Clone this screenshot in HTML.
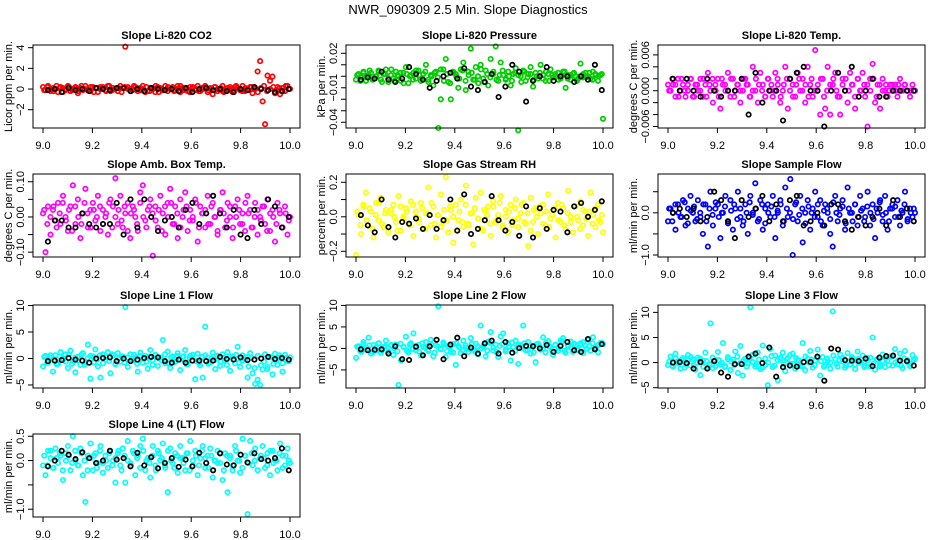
<!DOCTYPE html>
<html><head><meta charset="utf-8"><style>
html,body{margin:0;padding:0;background:#fff;}
svg{display:block;font-family:"Liberation Sans",Arial,sans-serif;}
</style></head><body>
<svg id="chart" width="936" height="540" viewBox="0 0 936 540" xmlns="http://www.w3.org/2000/svg">
<rect width="936" height="540" fill="#fff"/>
<text x="468" y="14" text-anchor="middle" font-size="13">NWR_090309  2.5 Min. Slope Diagnostics</text>
</svg>
<script>
const xTicks=[9.0,9.2,9.4,9.6,9.8,10.0];
const xTickLabels=["9.0","9.2","9.4","9.6","9.8","10.0"];
const co2=[0.2,-0.1,0.3,-0.2,0.1,0.0,-0.3,0.2,0.1,-0.1,0.3,-0.2,0.0,0.2,-0.4,0.1,-0.1,0.3,0.0,-0.2,0.2,0.1,-0.3,0.2,0.0,-0.1,0.3,-0.2,0.1,0.0,-0.2,0.3,0.1,4.1,0.2,0.0,-0.1,0.2,-0.2,0.1,0.3,-0.3,-0.2,0.1,0.0,-0.3,0.2,0.1,-0.1,0.3,-0.2,0.0,0.2,-0.1,0.3,-0.3,0.1,0.0,-0.2,0.2,0.1,-0.1,0.3,-0.2,0.0,0.2,-0.3,0.1,-0.5,0.2,0.0,-0.1,0.3,-0.2,0.1,0.0,-0.3,0.2,0.1,-0.1,0.3,-0.2,0.0,0.2,-0.4,0.1,1.7,2.7,-1.2,-3.4,1.3,0.8,1.2,-0.4,0.2,-0.5,0.1,-0.2,0.3,0.0];
const co2Band=[-0.1,0.2,0.0,-0.2,0.3,0.1,-0.3,0.0,0.2,-0.1,0.1,-0.2,0.3,0.0,-0.1,0.2,-0.3,0.1,0.0,0.2,-0.2,0.3,-0.1,0.0,0.1,-0.3,0.2,0.0,-0.2,0.3,0.1,-0.1,0.0,0.2,-0.2,0.1,0.3,-0.3,0.0,-0.1,0.2,0.1,-0.2,0.0,0.3,-0.1,0.1,-0.3,0.2,0.0,-0.2,0.1,0.3,-0.1,0.0,0.2,-0.2,0.1,-0.3,0.0,0.2,-0.1,0.3,0.0,-0.2,0.1,-0.1,0.2,0.0,-0.3,0.1,0.3,-0.2,0.0,0.2,-0.1,0.1,-0.2,0.3,0.0];
const co2Ref=[-0.1,0.0,-0.3,0.1,-0.1,0.0,-0.2,0.1,0.0,-0.1,0.1,0.1,-0.2,0.0,-0.2,0.1,0.0,-0.1,0.0,-0.2,0.1,-0.3,0.0,0.1,-0.1,0.0,-0.2,-0.3,0.0,-0.1,0.2,0.0,-0.1,-0.3,-0.2,0.0];
const pressure=[-0.003,0.002,-0.001,0.004,-0.004,0.001,0.003,-0.002,0.000,0.005,-0.003,0.002,0.006,-0.005,0.001,-0.002,0.004,0.000,-0.004,0.003,0.008,-0.006,0.001,0.003,-0.002,0.005,-0.004,0.002,0.010,-0.003,0.001,-0.008,0.004,-0.045,-0.020,0.006,0.015,-0.005,-0.020,0.003,0.002,-0.010,0.006,0.012,-0.012,0.004,0.024,-0.003,0.008,-0.006,0.010,-0.002,0.005,-0.008,0.015,0.002,0.026,-0.004,0.012,0.001,-0.003,0.004,-0.008,0.002,0.007,-0.047,0.000,0.005,-0.004,0.002,0.008,-0.009,0.003,-0.002,0.010,0.001,-0.004,0.002,0.006,-0.001,0.000,0.003,-0.002,0.004,-0.010,0.001,-0.003,0.002,0.000,-0.002,0.011,-0.001,0.003,0.000,-0.002,0.004,0.002,-0.004,0.001,-0.037];
const pressureBand=[0.001,-0.004,0.003,-0.001,0.005,-0.003,0.000,0.004,-0.005,0.002,-0.002,0.006,-0.004,0.001,0.003,-0.006,0.002,0.000,-0.003,0.005,0.001,-0.002,0.004,-0.005,0.000,0.003,-0.001,0.006,-0.004,0.002,-0.006,0.004,0.000,-0.002,0.005,-0.004,0.001,0.003,-0.003,0.000,0.006,-0.005,0.002,-0.001,0.004,-0.003,0.001,0.005,-0.002,0.000,-0.004,0.003,0.001,-0.005,0.004,-0.001,0.002,-0.003,0.000,0.003,-0.002,0.004,-0.004,0.001,0.002,-0.003,0.000,0.004,-0.002,0.001,0.003,-0.004,0.000,0.002,-0.001,0.003,-0.003,0.001,0.000,0.002];
const pressureRef=[-0.003,-0.001,-0.002,0.004,-0.003,-0.005,-0.002,0.008,0.002,-0.003,-0.010,-0.004,0.000,0.003,-0.002,0.007,-0.009,-0.012,-0.005,0.002,-0.018,-0.009,0.010,0.004,-0.022,-0.004,0.000,0.008,-0.004,0.000,0.000,-0.005,0.000,-0.003,0.010,-0.012];
const temp=[0.001,0.000,0.001,-0.001,0.002,0.000,0.001,-0.001,0.000,0.002,-0.001,0.001,0.000,0.002,-0.001,0.001,0.003,0.000,-0.002,0.001,0.002,-0.003,0.001,0.000,0.003,-0.001,0.002,0.000,0.001,-0.002,0.000,0.002,0.001,-0.001,0.004,0.000,-0.002,0.003,0.001,-0.001,0.002,0.000,-0.001,0.003,0.001,-0.002,0.000,0.004,-0.003,0.002,0.001,-0.001,0.003,0.000,0.002,-0.002,0.004,0.001,-0.001,0.0068,0.000,-0.004,0.002,-0.003,0.004,-0.004,0.001,0.003,-0.001,-0.004,0.002,0.000,-0.002,0.003,0.001,-0.003,0.002,0.000,0.003,-0.001,-0.006,0.002,0.0045,-0.002,0.001,-0.003,0.002,0.000,-0.001,0.001,0.000,0.001,-0.001,0.002,0.000,0.001,0.000,-0.001,0.001,0.000];
const tempBand=[0.000,0.002,0.001,-0.001,0.002,0.000,0.001,0.002,-0.001,0.001,0.000,0.002,-0.001,0.001,0.002,0.000,-0.001,0.002,0.001,0.000,0.002,-0.001,0.001,0.000,0.002,0.001,-0.001,0.000,0.002,0.001,0.000,-0.001,0.002,0.001,0.000,0.002,-0.001,0.001,0.002,0.000,-0.001,0.001,0.002,0.000,0.001,-0.001,0.002,0.000,0.001,0.002,-0.001,0.000,0.001,0.002,0.000,-0.001,0.001,0.002,0.000,0.001,-0.001,0.002,0.000,0.001,0.001,0.000,0.002,-0.001,0.001,0.000,0.001,0.000,0.001,0.000,0.001,0.000,0.001,0.000,0.000,0.000];
const tempRef=[0.002,0.000,0.002,0.000,-0.001,0.002,0.000,-0.001,0.000,0.000,0.002,-0.004,0.003,-0.002,0.000,0.000,-0.005,0.002,0.003,0.004,0.000,0.000,-0.006,0.000,0.003,0.000,0.004,-0.001,0.000,0.002,-0.001,-0.001,0.000,0.000,0.000,0.000];
const ambTemp=[0.01,-0.10,0.03,-0.05,0.02,-0.01,0.04,-0.02,0.06,0.00,-0.04,0.03,0.09,-0.02,0.05,-0.06,0.01,0.08,-0.03,0.02,0.04,-0.01,0.06,-0.04,0.02,0.00,-0.05,0.05,0.03,0.11,-0.02,0.06,-0.03,0.01,0.04,-0.06,0.03,0.00,-0.04,0.07,0.09,-0.01,0.02,0.05,-0.11,0.03,-0.03,0.06,0.01,-0.05,0.04,0.08,-0.02,0.03,-0.06,0.05,0.00,0.07,-0.04,0.02,-0.01,0.05,-0.07,0.03,0.01,-0.03,0.06,-0.02,0.04,0.00,-0.05,0.02,0.07,-0.03,0.04,0.00,-0.06,0.03,0.05,-0.02,0.01,-0.04,0.06,0.02,-0.03,0.04,-0.05,0.00,0.03,-0.02,0.05,-0.04,0.02,-0.07,0.04,0.01,-0.03,0.03,-0.05,0.00];
const ambTempBand=[0.02,-0.02,0.00,0.03,-0.03,0.01,0.04,-0.01,0.02,-0.04,0.03,0.00,-0.02,0.04,0.01,-0.03,0.02,0.00,0.03,-0.02,0.01,0.04,-0.03,0.00,0.02,-0.01,0.03,-0.04,0.01,0.02,-0.02,0.04,0.00,-0.03,0.03,0.01,-0.01,0.02,-0.04,0.03,0.00,0.04,-0.02,0.01,-0.03,0.02,0.03,-0.01,0.00,0.04,-0.03,0.01,0.02,-0.02,0.03,0.00,-0.04,0.02,0.01,-0.01,0.03,-0.03,0.00,0.02,-0.02,0.04,0.01,-0.03,0.00,0.02,-0.01,0.03,-0.04,0.01,0.00,-0.02,0.02,-0.03,0.01,-0.01];
const ambTempRef=[-0.07,-0.01,-0.01,-0.03,-0.03,0.01,-0.02,-0.03,-0.02,-0.02,0.04,-0.05,0.05,-0.03,0.05,0.00,-0.04,-0.01,0.00,-0.03,0.02,0.04,-0.02,0.01,0.06,0.01,-0.03,0.02,-0.05,-0.06,0.02,-0.02,0.05,0.03,-0.03,0.00];
const rh=[-0.22,0.01,-0.10,0.06,0.14,-0.05,0.03,-0.12,0.08,-0.02,0.11,-0.06,0.04,-0.09,0.02,0.07,-0.03,0.12,-0.08,0.00,0.05,-0.04,0.09,-0.11,0.03,-0.01,0.08,-0.07,0.02,0.17,-0.05,0.06,-0.12,0.01,0.13,-0.03,0.23,-0.09,0.04,-0.15,0.07,-0.02,0.10,-0.06,0.18,-0.04,0.02,-0.16,0.11,-0.01,0.14,-0.08,0.03,0.06,-0.11,0.09,-0.03,0.01,0.12,-0.05,0.04,-0.09,0.07,-0.02,0.10,-0.06,0.02,0.08,-0.04,-0.17,0.11,-0.03,0.05,-0.10,0.02,0.07,-0.05,0.13,-0.01,0.04,-0.12,0.08,-0.03,0.05,-0.07,0.15,0.00,-0.09,0.06,-0.02,0.09,-0.05,0.03,-0.11,0.14,0.01,-0.06,0.07,-0.03,-0.09];
const rhBand=[0.03,-0.05,0.07,-0.02,0.05,-0.07,0.01,0.08,-0.04,0.02,-0.06,0.04,0.00,-0.08,0.06,-0.01,0.03,-0.05,0.07,0.00,-0.03,0.05,-0.07,0.02,0.08,-0.04,0.01,-0.06,0.04,-0.02,0.06,0.00,-0.08,0.03,-0.03,0.07,-0.05,0.02,0.05,-0.01,-0.07,0.04,0.01,-0.04,0.06,-0.02,0.08,-0.06,0.00,0.03,-0.05,0.05,-0.01,0.07,-0.03,0.02,-0.08,0.04,0.00,0.06,-0.04,0.03,-0.06,0.01,0.05,-0.02,0.07,-0.05,0.02,-0.03,0.06,0.00,-0.07,0.04,-0.01,0.03,-0.04,0.05,-0.02,0.01];
const rhRef=[0.01,-0.05,-0.09,0.10,-0.06,-0.12,-0.03,-0.04,-0.01,-0.07,0.01,-0.07,-0.02,0.10,-0.08,0.13,-0.10,-0.07,-0.02,0.12,-0.02,-0.08,-0.03,-0.11,0.06,-0.12,0.05,-0.07,0.04,0.03,-0.09,0.06,0.08,0.00,0.04,0.09];
const sampleFlow=[-0.2,0.1,0.0,-0.4,0.2,-0.1,0.3,-0.3,0.1,0.4,0.0,-0.2,0.3,-0.1,-0.5,0.2,-0.8,0.5,-0.3,0.1,0.2,-0.6,0.0,0.4,-0.2,0.3,-0.4,0.1,0.5,-0.1,-0.3,0.2,-0.5,0.4,0.0,0.7,-0.2,0.3,-0.4,0.1,0.2,-0.1,0.4,-0.6,0.0,0.3,-0.3,0.6,-0.1,0.8,-1.0,0.2,-0.2,0.4,-0.7,0.0,0.3,-0.4,0.1,0.5,-0.1,0.3,-0.3,0.2,0.0,-0.5,-0.8,0.4,-0.2,0.1,0.3,-0.4,0.6,0.0,-0.2,0.2,-0.3,0.4,0.1,-0.1,0.5,-0.3,0.2,-0.6,0.0,0.3,-0.2,0.4,-0.4,0.1,0.2,-0.1,0.3,-0.3,0.0,0.5,-0.2,0.1,-0.1,0.0];
const sampleFlowBand=[0.1,-0.2,0.2,0.0,-0.1,0.25,-0.25,0.05,0.15,-0.15,0.0,0.2,-0.2,0.1,-0.05,0.25,-0.1,0.0,0.15,-0.25,0.05,0.2,-0.15,0.1,-0.2,0.0,0.25,-0.05,0.1,-0.15,0.2,-0.25,0.0,0.15,-0.1,0.05,0.2,-0.2,0.1,0.0,-0.15,0.25,-0.05,0.1,-0.25,0.15,0.0,-0.1,0.2,-0.2,0.05,0.1,-0.15,0.25,0.0,-0.05,0.15,-0.25,0.1,0.0,0.2,-0.1,0.05,-0.2,0.15,0.0,-0.15,0.1,0.25,-0.05,0.0,-0.2,0.1,0.15,-0.1,0.05,0.2,-0.15,0.0,0.1];
const sampleFlowRef=[0.0,0.1,-0.1,0.1,-0.2,-0.1,0.5,0.3,-0.2,-0.6,0.3,-0.1,0.1,0.4,-0.2,0.2,-0.2,0.3,0.4,-0.3,-0.2,0.0,-0.3,0.2,0.2,-0.2,-0.4,-0.1,-0.3,-0.1,0.1,-0.3,0.3,-0.1,0.1,-0.2];
const line1=[-1.5,0.5,-0.8,0.2,-2.5,0.6,-1.0,1.2,-0.3,0.8,-1.8,1.5,-0.5,-2.6,0.3,-1.2,1.0,-0.7,2.6,-3.8,0.4,1.7,-1.5,-3.6,0.8,-0.2,1.2,-2.8,0.5,-1.0,1.0,-0.6,0.4,9.7,-1.6,0.8,-0.4,0.2,-2.5,1.1,-0.8,0.5,-1.9,1.6,-0.3,0.7,-1.4,0.2,3.5,-0.9,1.3,-1.8,0.4,-0.6,1.0,-2.2,0.3,1.6,-1.1,0.5,-0.4,-3.9,0.9,-1.3,-3.6,6.0,0.2,-0.8,1.1,-2.0,0.5,-1.4,0.8,-0.3,1.2,-2.3,0.4,-0.9,2.2,-1.6,0.6,-0.2,-3.6,1.0,-2.8,-4.8,-4.0,-5.0,-2.1,0.8,-1.6,0.3,-3.0,0.9,-1.2,0.2,-2.5,0.7,-0.5,0.2];
const line1Band=[0.3,-0.8,0.6,-0.3,-1.1,0.4,0.0,-0.6,0.8,-1.0,0.2,-0.4,0.7,-1.2,0.1,0.5,-0.7,-0.2,0.6,-0.9,0.3,-0.5,0.8,-1.1,0.0,0.4,-0.8,0.2,-0.3,0.7,-1.0,0.5,-0.1,-0.6,0.3,-1.2,0.6,0.0,-0.4,0.8,-0.9,0.2,-0.7,0.5,-0.2,0.4,-1.1,0.1,0.7,-0.5,-0.8,0.3,0.6,-1.0,0.0,-0.3,0.5,-0.6,0.2,-1.2,0.4,-0.1,0.7,-0.8,-0.4,0.3,-1.5,0.1,-1.8,0.5,-1.3,-0.6,-2.0,0.2,-1.0,-0.3,0.6,-0.9,0.1,-0.5];
const line1Ref=[-0.5,-0.4,-0.3,0.1,-0.2,-0.4,-0.8,0.0,0.1,0.2,-0.5,0.0,-0.5,-0.2,0.1,0.3,0.2,-0.5,-0.8,-0.2,-0.8,-0.4,-0.4,-0.5,-0.4,0.3,-0.1,-0.2,0.2,-0.3,-0.2,0.0,0.3,-0.1,0.1,-0.2];
const line2=[-2.2,0.5,-0.8,1.5,-0.3,2.5,-1.2,0.8,-0.5,1.2,-1.0,0.3,1.8,-0.7,0.6,-1.5,0.9,-8.5,-2.8,0.4,2.7,-0.9,1.2,3.5,-0.4,0.8,-1.6,0.3,1.5,-0.6,2.0,-1.8,0.7,9.8,-0.2,1.4,-2.0,0.5,-0.9,1.0,-3.8,0.6,-1.1,1.8,0.2,-0.8,2.4,-0.3,1.1,-1.4,5.3,0.4,-1.8,1.6,3.8,-0.5,0.9,-2.0,2.8,3.5,-0.7,1.2,-2.8,0.3,1.8,-3.6,0.8,5.3,-0.4,1.5,-1.2,0.6,-3.2,1.1,-0.3,2.6,-0.9,1.7,0.2,-1.5,0.8,-0.6,1.9,2.4,-1.0,0.5,1.6,-0.8,0.9,-0.4,1.2,-1.1,0.6,2.0,-0.5,2.6,0.3,-0.9,1.3,1.0];
const line2Band=[0.4,-0.6,1.0,-0.2,0.7,-0.9,0.2,1.2,-0.4,0.5,-1.0,0.8,0.0,-0.7,1.1,0.3,-0.5,0.9,-0.1,0.6,-0.8,1.2,0.1,-0.3,0.8,-1.0,0.5,0.0,1.0,-0.6,0.3,-0.9,1.2,0.2,-0.4,0.7,-0.1,1.1,-0.7,0.4,0.0,0.9,-0.5,1.3,0.2,-0.8,0.6,1.0,-0.3,0.5,1.4,-0.6,0.8,0.1,1.2,-0.4,0.6,-0.9,1.0,0.3,-0.2,1.3,0.5,-0.7,0.9,0.0,1.4,-0.5,0.7,0.2,1.1,-0.3,0.8,1.5,-0.1,0.6,1.2,0.0,0.9,1.3];
const line2Ref=[-0.2,-0.4,-0.3,-0.2,-1.2,0.5,-2.5,-2.7,0.4,-1.6,0.5,2.0,-2.5,0.9,2.5,-1.8,0.2,-1.2,1.2,1.8,-1.2,1.5,-1.0,0.1,0.6,0.5,0.0,0.8,-0.8,0.6,1.5,-0.4,-0.8,2.2,-0.2,1.0];
const line3=[-0.5,1.2,-0.8,1.8,0.3,-1.2,0.9,-0.3,1.5,-0.6,0.7,-1.4,1.0,-2.5,0.4,2.0,-0.9,7.8,-1.1,0.5,2.1,-0.4,3.9,-0.7,1.1,-1.5,0.6,2.2,-2.1,3.3,-2.6,0.8,-0.2,11.0,1.6,-0.8,2.0,-1.3,3.4,-0.5,-4.5,2.7,-0.9,1.4,-3.5,0.6,2.0,-1.7,0.9,-0.3,1.8,-1.2,0.5,-0.7,3.9,-1.5,0.8,2.3,-1.0,0.4,2.6,-2.6,1.1,-0.5,0.3,-1.2,10.2,0.7,-0.8,1.6,0.2,-1.0,1.9,-0.4,0.8,-1.3,2.2,0.0,1.4,-0.6,0.9,-0.8,5.0,-1.4,0.6,-0.3,1.6,-0.9,0.4,1.2,-0.6,2.7,-0.3,1.8,-1.1,2.3,0.5,-0.7,1.5,0.8];
const line3Band=[0.2,-0.6,0.9,-0.2,0.6,-1.0,0.4,1.1,-0.5,0.0,0.8,-0.8,0.3,-0.3,1.0,-0.7,0.5,0.0,-0.9,0.7,0.2,-0.5,1.2,-0.1,0.4,-0.8,0.9,0.1,-0.4,0.6,-1.0,0.8,0.0,1.3,-0.6,0.5,1.0,-0.3,0.7,1.5,-0.2,0.9,0.4,-0.7,1.2,0.1,0.6,-0.5,1.0,0.3,-0.8,0.8,0.0,1.4,-0.3,0.5,0.9,-0.6,0.2,1.1,-0.4,0.7,0.0,-0.9,0.5,1.0,-0.2,0.6,-0.7,0.3,0.9,-0.5,1.2,0.0,0.4,-0.6,0.8,0.1,-0.3,0.5];
const line3Ref=[0.0,0.1,-0.1,-1.2,0.1,-1.2,0.3,-2.0,-2.8,-0.3,-0.3,1.2,1.8,-0.1,3.0,-2.8,-0.9,-0.6,-0.8,0.1,0.1,1.2,-3.6,2.8,2.6,0.5,0.4,0.3,0.8,-0.7,1.0,1.3,1.4,0.4,0.3,-0.6];
const line4=[-0.1,-0.3,0.2,0.05,-0.15,0.25,-0.05,0.1,-0.4,0.15,0.3,-0.2,0.5,0.0,-0.1,0.25,-0.3,-0.85,0.1,0.35,-0.2,0.15,-0.05,0.3,-0.25,0.1,-0.15,0.2,0.0,-0.45,0.15,-0.1,0.25,-0.45,0.4,-0.05,0.2,-0.3,0.1,0.3,0.45,-0.2,0.05,-0.35,0.3,-0.1,0.2,0.0,0.35,-0.15,-0.65,0.25,-0.05,0.15,-0.25,0.3,0.05,-0.2,0.15,0.4,-0.1,0.2,-0.3,0.05,0.3,-0.15,0.1,0.25,-0.35,0.0,0.2,-0.05,-0.4,0.15,-0.65,0.1,-0.2,0.3,0.0,-0.25,0.45,0.1,-1.1,0.4,-0.1,0.25,-0.2,0.05,0.3,-0.15,0.15,-0.3,0.2,0.0,-0.2,0.35,0.1,-0.1,0.25,-0.05];
const line4Band=[0.1,-0.1,0.2,-0.15,0.05,0.15,-0.2,0.0,0.1,-0.05,0.2,-0.1,0.15,0.0,-0.2,0.05,0.1,-0.15,0.2,-0.05,0.0,0.15,-0.1,0.05,0.2,-0.2,0.1,0.0,-0.1,0.15,0.05,-0.15,0.2,0.0,-0.05,0.1,-0.2,0.15,0.05,-0.1,0.2,0.0,-0.15,0.1,0.05,-0.05,0.15,-0.2,0.0,0.1,-0.1,0.2,0.05,-0.15,0.1,0.0,-0.05,0.15,-0.2,0.1,0.05,-0.1,0.2,0.0,-0.15,0.1,-0.05,0.15,0.0,-0.2,0.1,0.05,-0.1,0.2,-0.05,0.0,0.15,-0.15,0.1,0.0];
const line4Ref=[-0.12,0.0,0.2,0.12,0.03,0.17,0.05,-0.05,0.0,0.2,0.02,0.05,-0.12,0.16,-0.1,0.07,-0.16,-0.05,0.05,-0.13,0.02,-0.12,0.16,-0.05,-0.2,0.15,-0.08,-0.1,0.12,-0.04,0.15,0.03,0.0,0.05,0.25,-0.2];

const panels=[
 {name:"co2",title:"Slope Li-820 CO2",ylab:"Licor ppm per min.",col:0,row:0,ymin:-3.77,ymax:4.26,ticks:[-2,0,2,4],labels:{"-2":"−2","0":"0","2":"2","4":"4"},color:"#ff0000",data:co2,band:co2Band,ref:co2Ref},
 {name:"pressure",title:"Slope Li-820 Pressure",ylab:"kPa per min.",col:1,row:0,ymin:-0.045,ymax:0.0272,ticks:[-0.04,-0.03,-0.02,-0.01,0,0.01,0.02],labels:{"0.02":"0.02","-0.01":"−0.01","-0.04":"−0.04"},color:"#00cd00",data:pressure,band:pressureBand,ref:pressureRef},
 {name:"temp",title:"Slope Li-820 Temp.",ylab:"degrees C per min.",col:2,row:0,ymin:-0.00625,ymax:0.00766,ticks:[-0.006,-0.004,-0.002,0,0.002,0.004,0.006],labels:{"0.006":"0.006","0":"0.000","-0.006":"−0.006"},color:"#ff00ff",data:temp,band:tempBand,ref:tempRef},
 {name:"amb-box-temp",title:"Slope Amb. Box Temp.",ylab:"degrees C per min.",col:0,row:1,ymin:-0.1137,ymax:0.122,ticks:[-0.1,-0.05,0,0.05,0.1],labels:{"0.1":"0.10","0":"0.00","-0.1":"−0.10"},color:"#ff00ff",data:ambTemp,band:ambTempBand,ref:ambTempRef},
 {name:"gas-rh",title:"Slope Gas Stream RH",ylab:"percent per min.",col:1,row:1,ymin:-0.233,ymax:0.248,ticks:[-0.2,-0.1,0,0.1,0.2],labels:{"0.2":"0.2","0":"0.0","-0.2":"−0.2"},color:"#ffff00",data:rh,band:rhBand,ref:rhRef},
 {name:"sample-flow",title:"Slope Sample Flow",ylab:"ml/min per min.",col:2,row:1,ymin:-1.047,ymax:0.92,ticks:[-1,-0.5,0,0.5],labels:{"0":"0.0","-1":"−1.0"},color:"#0000ff",data:sampleFlow,band:sampleFlowBand,ref:sampleFlowRef},
 {name:"line1-flow",title:"Slope Line 1 Flow",ylab:"ml/min per min.",col:0,row:2,ymin:-5.57,ymax:10.1,ticks:[-5,0,5,10],labels:{"-5":"−5","0":"0","5":"5","10":"10"},color:"#00ffff",data:line1,band:line1Band,ref:line1Ref},
 {name:"line2-flow",title:"Slope Line 2 Flow",ylab:"ml/min per min.",col:1,row:2,ymin:-9.2,ymax:10.1,ticks:[-5,0,5,10],labels:{"-5":"−5","0":"0","5":"5","10":"10"},color:"#00ffff",data:line2,band:line2Band,ref:line2Ref},
 {name:"line3-flow",title:"Slope Line 3 Flow",ylab:"ml/min per min.",col:2,row:2,ymin:-5.06,ymax:11.47,ticks:[-5,0,5,10],labels:{"-5":"−5","0":"0","5":"5","10":"10"},color:"#00ffff",data:line3,band:line3Band,ref:line3Ref},
 {name:"line4-flow",title:"Slope Line 4 (LT) Flow",ylab:"ml/min per min.",col:0,row:3,ymin:-1.16,ymax:0.546,ticks:[-1,-0.5,0,0.5],labels:{"0.5":"0.5","0":"0.0","-1":"−1.0"},color:"#00ffff",data:line4,band:line4Band,ref:line4Ref}
];
const NS="http://www.w3.org/2000/svg";
const svg=document.getElementById("chart");
const colLeft=[33,346,658], rowTop=[45,174,305,434], BW=267, BH=83;
function mk(tag,attrs,parent){const e=document.createElementNS(NS,tag);for(const k in attrs)e.setAttribute(k,attrs[k]);parent.appendChild(e);return e;}
panels.forEach(p=>{
  const L=colLeft[p.col], T=rowTop[p.row];
  const g=mk("g",{},svg);
  
  
  const xs=v=>L+10+(v-9)*247;
  const ys=v=>T+BH-(v-p.ymin)/(p.ymax-p.ymin)*BH;
  const t=mk("text",{x:L+BW/2,y:T-6,"text-anchor":"middle","font-size":"11","font-weight":"bold"},g);
  t.textContent=p.title;
  
  
  const yl=mk("text",{x:L-25,y:T+BH/2,"text-anchor":"middle","font-size":"11",transform:`rotate(-90 ${L-25} ${T+BH/2})`,dy:"4"},g);
  yl.textContent=p.ylab;
  
  
  const pts=mk("g",{fill:"none","stroke-width":"1.7"},g);
  
  
  const nb=p.band.length;
  p.band.forEach((v,i)=>{
    const c=mk("circle",{cx:xs(9.005+i*0.99/(nb-1)).toFixed(1),cy:ys(v).toFixed(1),r:"2.2",stroke:p.color},pts);
    
    
  });
  const n=p.data.length;
  p.data.forEach((v,i)=>{
    const c=mk("circle",{cx:xs(9+i/(n-1)).toFixed(1),cy:ys(v).toFixed(1),r:"2.2",stroke:p.color},pts);
    
    
  });
  const m=p.ref.length;
  p.ref.forEach((v,i)=>{
    const c=mk("circle",{cx:xs(9.02+i*0.975/(m-1)).toFixed(1),cy:ys(v).toFixed(1),r:"2.2",stroke:"#000"},pts);
    
    
  });
  const b=mk("rect",{x:L,y:T,width:BW,height:BH,fill:"none",stroke:"#000","stroke-width":"1"},g);
  
  
  const xa=mk("g",{},g);
  
  
  mk("line",{x1:xs(9),x2:xs(10),y1:T+BH,y2:T+BH,stroke:"#000"},xa);
  xTicks.forEach((v,i)=>{
    mk("line",{x1:xs(v),x2:xs(v),y1:T+BH,y2:T+BH+5,stroke:"#000"},xa);
    const tl=mk("text",{x:xs(v),y:T+BH+21,"text-anchor":"middle","font-size":"11"},xa);
    tl.textContent=xTickLabels[i];
    
    
  });
  const ya=mk("g",{},g);
  
  
  p.ticks.forEach(v=>{
    const y=ys(v);
    mk("line",{x1:L-5,x2:L,y1:y,y2:y,stroke:"#000"},ya);
    const key=String(v);
    if(p.labels[key]!==undefined){
      const tl=mk("text",{x:L-9,y:y,"text-anchor":"middle","font-size":"11",transform:`rotate(-90 ${L-9} ${y})`},ya);
      tl.textContent=p.labels[key];
      
      
    }
  });
});
</script>
</body></html>
